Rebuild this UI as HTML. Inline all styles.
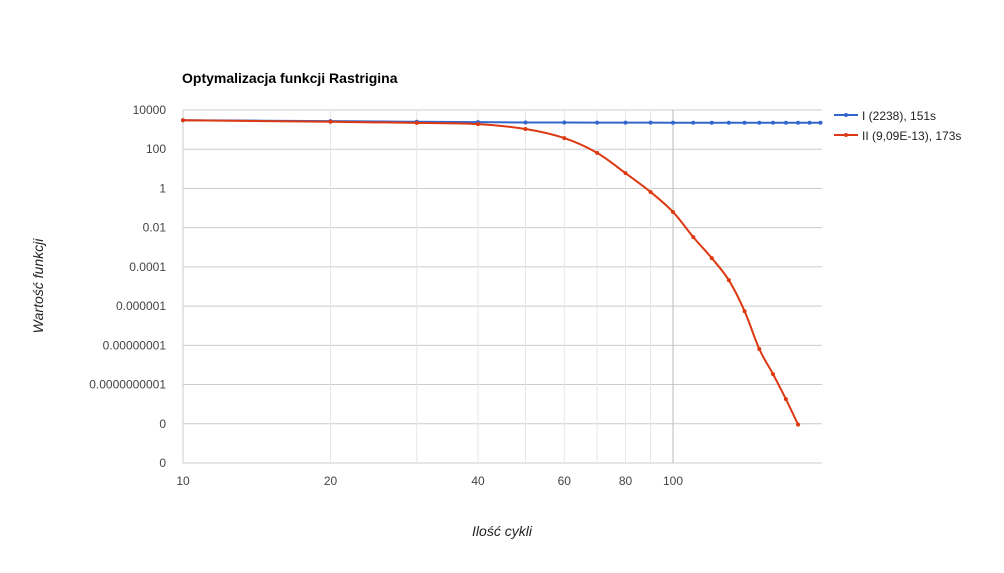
<!DOCTYPE html>
<html><head><meta charset="utf-8"><style>
body{margin:0;background:#fff;}
svg{display:block;font-family:"Liberation Sans",Arial,sans-serif;}
</style></head><body>
<svg id="chart" width="1004" height="573">
<text x="182" y="83" font-size="14" font-weight="bold" fill="#000">Optymalizacja funkcji Rastrigina</text>
<g id="grid"></g>
<g id="axes"></g>
<g id="series"></g>
<text x="502" y="536" font-size="14" font-style="italic" fill="#222" text-anchor="middle">Ilość cykli</text>
<text transform="translate(43,286) rotate(-90)" font-size="14" font-style="italic" fill="#222" text-anchor="middle">Wartość funkcji</text>
<g>
<g>
<line x1="834" y1="115" x2="858" y2="115" stroke="#3366cc" stroke-width="2"/><circle cx="846" cy="115" r="2" fill="#3366cc"/>
<text x="862" y="120" font-size="12" fill="#222">I (2238), 151s</text></g>
<g>
<line x1="834" y1="135" x2="858" y2="135" stroke="#dc3912" stroke-width="2"/><circle cx="846" cy="135" r="2" fill="#dc3912"/>
<text x="862" y="140" font-size="12" fill="#222">II (9,09E-13), 173s</text></g>
</g>
</svg>
<script>
const xCats=[10,20,30,40,50,60,70,80,90,100,110,120,130,140,150,160,170,180,190,200];
const seriesI=[3000,2700,2500,2400,2300,2300,2280,2270,2260,2250,2250,2245,2245,2240,2240,2240,2238,2238,2238,2238];
const seriesII=[3000,2500,2200,1900,1070,370,65,6,0.66,0.063,0.0033,0.00028,2.1e-5,5.5e-7,6.5e-9,3.4e-10,1.8e-11,9.09e-13];
const yTickVals=[1e4,1e2,1,1e-2,1e-4,1e-6,1e-8,1e-10,1e-12,1e-14];
const yTickLabels=["10000","100","1","0.01","0.0001","0.000001","0.00000001","0.0000000001","0","0"];
const xTickVals=[10,20,40,60,80,100];
const xGridVals=[20,30,40,50,60,70,80,90,100];
const X0=183,X1=822,Y0=110,Y1=463;
const xs=v=>X0+(Math.log10(v)-1)*490;
const ys=v=>Y0+(4-Math.log10(v))*(Y1-Y0)/18;
const NS='http://www.w3.org/2000/svg';
function mk(tag,attrs,parent){const e=document.createElementNS(NS,tag);for(const k in attrs)e.setAttribute(k,attrs[k]);parent.appendChild(e);return e;}
const grid=document.getElementById('grid'),axes=document.getElementById('axes'),ser=document.getElementById('series');
yTickVals.forEach((v,i)=>{const y=ys(v);
const l=mk('line',{x1:X0,x2:X1,y1:y,y2:y,stroke:'#ccc','stroke-width':1},grid);


const t=mk('text',{x:X0-17,y:y+4,'font-size':12,fill:'#444','text-anchor':'end'},axes);t.textContent=yTickLabels[i];


});
xGridVals.forEach(v=>{const x=xs(v);
const l=mk('line',{x1:x,x2:x,y1:Y0,y2:Y1,stroke:v===100?'#bbb':'#e6e6e6','stroke-width':1},grid);


});
const ax=mk('line',{x1:X0,x2:X0,y1:Y0,y2:Y1,stroke:'#ccc'},grid);


xTickVals.forEach(v=>{const t=mk('text',{x:xs(v),y:485,'font-size':12,fill:'#444','text-anchor':'middle'},axes);t.textContent=v;


});
function smooth(p){let d=`M${p[0][0]},${p[0][1]}`;for(let i=0;i<p.length-1;i++){const a=p[i-1]||p[i],b=p[i],c=p[i+1],e=p[i+2]||c;
d+=` C${b[0]+(c[0]-a[0])/6},${b[1]+(c[1]-a[1])/6} ${c[0]-(e[0]-b[0])/6},${c[1]-(e[1]-b[1])/6} ${c[0]},${c[1]}`;}return d;}
function draw(vals,color,name){const pts=vals.map((v,i)=>[xs(xCats[i]),ys(v)]);
const p=mk('path',{d:smooth(pts),fill:'none',stroke:color,'stroke-width':2},ser);


pts.forEach(q=>{const c=mk('circle',{cx:q[0],cy:q[1],r:2,fill:color},ser);

});}
draw(seriesI,'#3366cc','series-i');
draw(seriesII,'#dc3912','series-ii');
</script>
</body></html>
